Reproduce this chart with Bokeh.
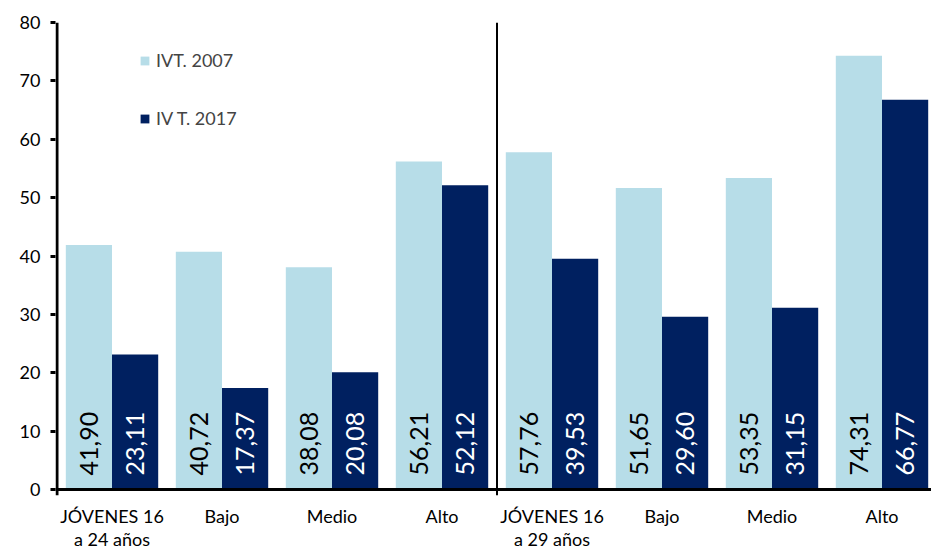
import math
from bokeh.plotting import figure
from bokeh.models import (ColumnDataSource, FixedTicker, Span, Legend, LegendItem, Range1d)
from bokeh.core.properties import value
from bokeh.embed import file_html
from bokeh.resources import INLINE

categories = ["JÓVENES 16\na 24 años", "Bajo", "Medio", "Alto",
              "JÓVENES 16\na 29 años", "Bajo", "Medio", "Alto"]
series_2007 = [41.90, 40.72, 38.08, 56.21, 57.76, 51.65, 53.35, 74.31]
series_2017 = [23.11, 17.37, 20.08, 52.12, 39.53, 29.60, 31.15, 66.77]
series_names = ["IVT. 2007", "IV T. 2017"]
y_ticks = [0, 10, 20, 30, 40, 50, 60, 70, 80]

LIGHT = "#b7dde8"
DARK = "#002060"
FONT = "Lato"

idx = list(range(len(categories)))
n = len(categories)
bw = 0.42
x0 = -0.5137          # left edge of the plot frame (data units)
y_min, y_max = y_ticks[0], y_ticks[-1]

def fmt(v):
    return f"{v:.2f}".replace(".", ",")

src_a = ColumnDataSource(dict(x=[i - bw / 2 for i in idx], top=series_2007,
                              lab=[fmt(v) for v in series_2007], ly=[2.4] * n))
src_b = ColumnDataSource(dict(x=[i + bw / 2 for i in idx], top=series_2017,
                              lab=[fmt(v) for v in series_2017], ly=[2.4] * n))
src_c = ColumnDataSource(dict(x=idx, y=[-2.7] * n, cat=categories))

p = figure(width=931, height=551, output_backend="svg", toolbar_location=None,
           x_range=Range1d(x0, n - 0.55), y_range=Range1d(-10.62, y_max),
           min_border_left=55, min_border_right=0, min_border_top=22, min_border_bottom=0)
p.outline_line_color = None
p.xgrid.visible = False
p.ygrid.visible = False

ra = p.vbar(x="x", top="top", width=bw, source=src_a, fill_color=LIGHT, line_color=None)
rb = p.vbar(x="x", top="top", width=bw, source=src_b, fill_color=DARK, line_color=None)

p.text(x="x", y="ly", text="lab", source=src_a, angle=math.pi / 2,
       text_align="left", text_baseline="middle", text_color="black",
       text_font=value(FONT), text_font_size="25px")
p.text(x="x", y="ly", text="lab", source=src_b, angle=math.pi / 2,
       text_align="left", text_baseline="middle", text_color="white",
       text_font=value(FONT), text_font_size="25px")

# category labels below the zero line
p.text(x="x", y="y", text="cat", source=src_c, text_align="center", text_baseline="top",
       text_color="black", text_font=value(FONT), text_font_size="18px",
       text_line_height=1.05)

# zero line, y axis line and group divider
p.add_layout(Span(location=0, dimension="width", line_color="black", line_width=3))
p.segment(x0=[-0.5], y0=[-1], x1=[-0.5], y1=[y_max], line_color="black", line_width=3)
p.segment(x0=[(n - 1) / 2], y0=[-1], x1=[(n - 1) / 2], y1=[y_max],
          line_color="black", line_width=2)

# y axis (line drawn above, ticks + labels from the axis)
p.yaxis.ticker = FixedTicker(ticks=y_ticks)
p.yaxis.axis_line_color = None
p.yaxis.major_tick_line_width = 3
p.yaxis.major_tick_line_color = "black"
p.yaxis.major_tick_in = 0
p.yaxis.major_tick_out = 5
p.yaxis.minor_tick_line_color = None
p.yaxis.major_label_text_font = FONT
p.yaxis.major_label_text_font_size = "18px"
p.yaxis.major_label_text_color = "black"
p.yaxis.major_label_standoff = 10

p.xaxis.visible = False

legend = Legend(items=[LegendItem(label=series_names[0], renderers=[ra]),
                       LegendItem(label=series_names[1], renderers=[rb])],
                location=(84, 422), orientation="vertical")
legend.border_line_color = None
legend.background_fill_alpha = 0
legend.padding = 0
legend.margin = 0
legend.spacing = 36
legend.glyph_width = 11
legend.glyph_height = 11
legend.label_text_font = FONT
legend.label_text_font_size = "18px"
legend.label_standoff = 6
p.add_layout(legend)

open("out.html", "w").write(file_html(p, INLINE))
